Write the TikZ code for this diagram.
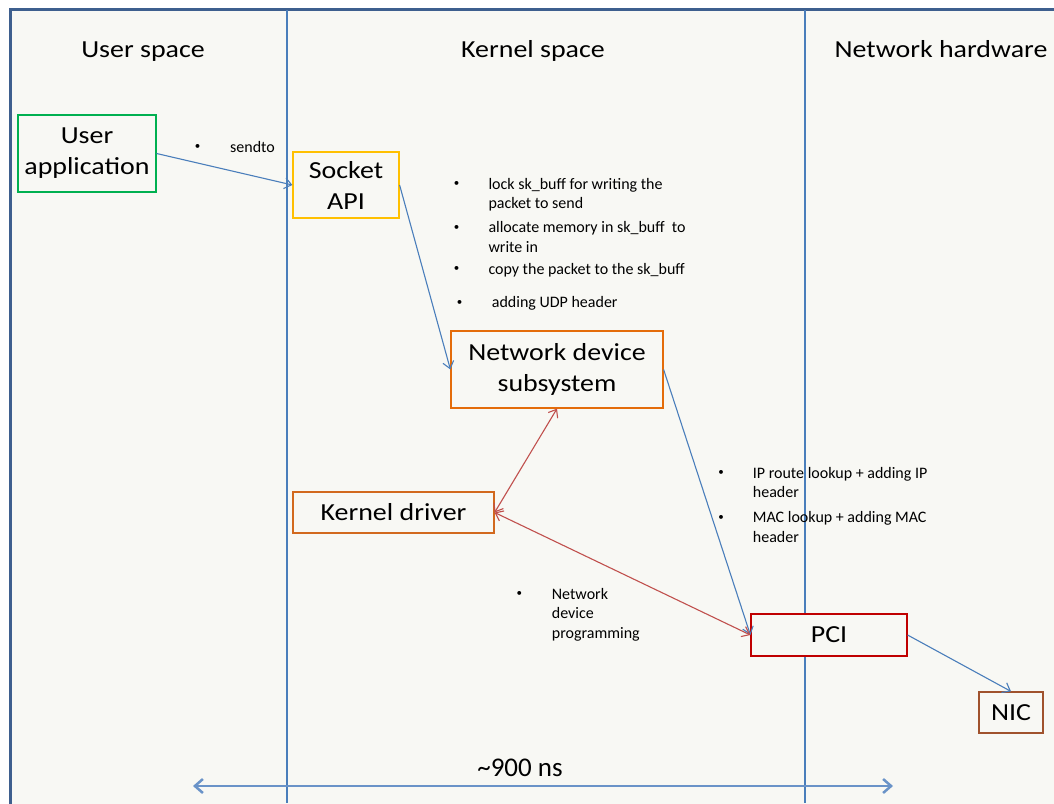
\documentclass[tikz,border=0pt]{standalone}
\usepackage{fontspec}
\setmainfont{Carlito}
\newfontfamily\bigf[FakeStretch=1.14]{Carlito}
\usetikzlibrary{arrows.meta}
\definecolor{bgc}{HTML}{F8F8F4}
\definecolor{framec}{HTML}{3E5F8E}
\definecolor{lineb}{HTML}{4A7EBB}
\definecolor{arrb}{HTML}{4A7EBB}
\definecolor{arrt}{HTML}{6A93C8}
\definecolor{arrr}{HTML}{C0504D}
\definecolor{cgreen}{HTML}{00B050}
\definecolor{cyellow}{HTML}{FFC000}
\definecolor{corange}{HTML}{E46C0A}
\definecolor{corange2}{HTML}{D2691E}
\definecolor{cred}{HTML}{C00000}
\definecolor{cbrown}{HTML}{A0522D}
\tikzset{
  boxn/.style={draw, line width=1.2pt, fill=bgc, align=center, inner sep=0pt,
    font=\bigf\fontsize{24.5}{31}\selectfont},
  hdr/.style={font=\bigf\fontsize{24.5}{28}\selectfont, inner sep=0pt, anchor=base},
  bul/.style={font=\fontsize{11}{13}\selectfont, inner sep=0pt, anchor=center},
  txt/.style={font=\fontsize{16}{19.5}\selectfont, inner sep=0pt, anchor=base west},
  barrow/.style={draw=arrb, line width=1.1pt, -{Straight Barb[length=7pt,width=11pt]}},
  rarrow/.style={draw=arrr, line width=1.1pt, {Straight Barb[length=7pt,width=11pt]}-{Straight Barb[length=7pt,width=11pt]}},
}
\newcommand{\mlines}[1]{\begin{tabular}[t]{@{}l@{}}#1\end{tabular}}
\begin{document}
\begin{tikzpicture}[x=1pt,y=-1pt]
\useasboundingbox (0,0) rectangle (1054,803);
\fill[white] (0,0) rectangle (1054,803);
\begin{scope}
\clip (0,0) rectangle (1054,803);
\draw[framec, line width=3pt, fill=bgc] (10,9) rectangle (1070,820);
\draw[lineb, line width=1.2pt] (287,10) -- (287,803);
\draw[lineb, line width=1.2pt] (805,10) -- (805,803);
\end{scope}

% headers
\node[hdr] (hu) at (143,57.3) {User space};
\node[hdr] (hk) at (533,57.3) {Kernel space};
\node[hdr] (hn) at (941,57.3) {Network hardware};

% boxes
\node[boxn, draw=cgreen, minimum width=138pt, minimum height=77pt] (ua) at (87,153.5) {User\\application};
\node[boxn, draw=cyellow, minimum width=106pt, minimum height=66pt] (sock) at (346,185) {Socket\\API};
\node[boxn, draw=corange, minimum width=212pt, minimum height=77pt] (nds) at (557,369.5) {Network device\\subsystem};
\node[boxn, draw=corange2, minimum width=201pt, minimum height=41pt] (kd) at (393.5,512.5) {Kernel driver};
\node[boxn, draw=cred, minimum width=156pt, minimum height=42pt] (pci) at (829,635) {PCI};
\node[boxn, draw=cbrown, minimum width=64pt, minimum height=41pt] (nic) at (1011,712.5) {NIC};

% arrows
\draw[barrow] (ua.east) -- (sock.west);
\draw[barrow] (sock.east) -- (nds.west);
\draw[barrow] (nds.east) -- (pci.west);
\draw[barrow] (pci.east) -- (nic.north);
\draw[rarrow] (kd.east) -- (nds.south);
\draw[rarrow] (kd.east) -- (pci.west);

% timeline
\coordinate (tl) at (193,786);
\coordinate (tr) at (893,786);
\draw[draw=arrt, line width=2.5pt, {Straight Barb[length=8pt,width=14pt]}-{Straight Barb[length=8pt,width=14pt]}] (tl) -- (tr);
\node[font=\fontsize{27}{30}\selectfont, inner sep=0pt, anchor=base] (lat) at (520,776) {\textasciitilde 900 ns};

% bullet texts
\node[bul] (b1) at (197.5,147) {•};
\node[txt] (t1) at (230,152.7) {sendto};

\node[bul] (b2) at (456.7,184) {•};
\node[txt] (t2) at (488.3,189.3) {\mlines{lock sk\_buff for writing the\\packet to send}};
\node[bul] (b3) at (456.7,227.5) {•};
\node[txt] (t3) at (488.3,232.7) {\mlines{allocate memory in sk\_buff\ \ to\\write in}};
\node[bul] (b4) at (456.7,269) {•};
\node[txt] (t4) at (488.3,274) {copy the packet to the sk\_buff};
\node[bul] (b5) at (459.5,302.5) {•};
\node[txt] (t5) at (491.7,307.7) {adding UDP header};

\node[bul] (b6) at (721,473.3) {•};
\node[txt] (t6) at (752.7,478.3) {\mlines{IP route lookup + adding IP\\header}};
\node[bul] (b7) at (721,517.5) {•};
\node[txt] (t7) at (752.7,522.7) {\mlines{MAC lookup + adding MAC\\header}};

\node[bul] (b8) at (519.3,594) {•};
\node[txt] (t8) at (551.7,599.3) {\mlines{Network\\device\\programming}};
\end{tikzpicture}
\end{document}
